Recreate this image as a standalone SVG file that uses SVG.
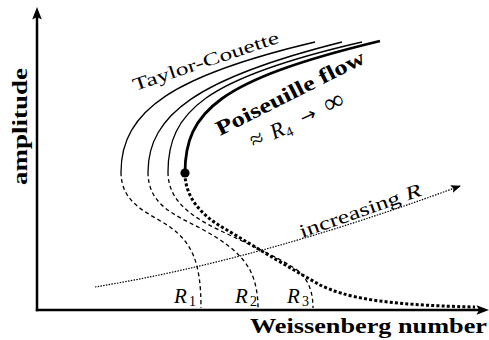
<svg xmlns="http://www.w3.org/2000/svg" width="489" height="340" viewBox="0 0 489 340">
<defs>
<marker id="arr" viewBox="0 0 10 8" refX="9" refY="4" markerWidth="10" markerHeight="8" markerUnits="userSpaceOnUse" orient="auto">
<path d="M0,0 L10,4 L0,8 L2,4 Z" fill="#000"/>
</marker>
<style>
.solid{fill:none;stroke:#000;stroke-width:1.3}
.thick{fill:none;stroke:#000;stroke-width:2.8}
.dash{fill:none;stroke:#000;stroke-width:1.3;stroke-dasharray:4 3}
.tdot{fill:none;stroke:#000;stroke-width:3;stroke-dasharray:3 2.2}
.fine{fill:none;stroke:#000;stroke-width:1.2;stroke-dasharray:1.5 1.3}
.axis{fill:none;stroke:#000;stroke-width:2.5}
text{font-family:"Liberation Serif","DejaVu Serif",serif;fill:#000}
.bold{font-weight:bold}
.it{font-style:italic}
.sym{font-family:"DejaVu Sans",sans-serif;font-weight:normal}
</style>
</defs>
<g id="axes">
<line class="axis" x1="37" y1="311.2" x2="37" y2="15"/>
<path d="M37,7 L41.8,19.5 L37,17 L32.2,19.5 Z" fill="#000"/>
<line class="axis" x1="35.8" y1="310" x2="480" y2="310"/>
<path d="M489,310 L476.5,305.2 L479,310 L476.5,314.8 Z" fill="#000"/>
<text class="bold" font-size="21" transform="translate(27,185) rotate(-90)" textLength="117" lengthAdjust="spacingAndGlyphs">amplitude</text>
<text class="bold" x="250" y="333" font-size="22" textLength="237" lengthAdjust="spacingAndGlyphs">Weissenberg number</text>
</g>
<g id="connectors">
<g id="curve-R1">
<path class="solid" d="M121,172 C121,110 175,75 315,42"/>
<path class="dash" d="M121,172 C121,205 150,213 170,227 C192,243 201,262 201,308"/>
</g>
<g id="curve-R2">
<path class="solid" d="M148,172 C148,115 198,78 342,42"/>
<path class="dash" d="M148,172 C148,205 175,215 200,228 C222,240 240,252 250,270 C256,282 258,295 258,308"/>
</g>
<g id="curve-R3">
<path class="solid" d="M168,172 C168,112 205,78 362,42"/>
<path class="dash" d="M168,172 C168,200 190,215 213,227 C245,243 275,255 297,270 C310,280 313,295 313,308"/>
</g>
<g id="curve-R4">
<path class="thick" d="M185,173 C185,112 218,80 380,41"/>
<path class="tdot" d="M185,173 C185,200 205,218 227,230 C260,250 290,268 320,285 C345,297 380,305 475,307"/>
<circle cx="185" cy="173" r="4.6" fill="#000"/>
</g>
<path class="fine" d="M95,287 Q260,260 460,186" marker-end="url(#arr)"/>
</g>
<g id="labels">
<text font-size="18" transform="translate(135,91) rotate(-18.5)" textLength="153" lengthAdjust="spacingAndGlyphs">Taylor-Couette</text>
<text class="bold" font-size="21" transform="translate(220,136) rotate(-26.7)" textLength="164" lengthAdjust="spacingAndGlyphs">Poiseuille flow</text>
<g transform="translate(254,149) rotate(-25)">
<text x="0" y="0" font-size="24">≈</text>
<text x="22" y="0" font-size="22" class="it">R</text>
<text x="36" y="4" font-size="14">4</text>
<text x="55" y="-1" font-size="19" class="sym">→</text>
<text x="82" y="0" font-size="28">∞</text>
</g>
<text font-size="19" transform="translate(302,238) rotate(-19.5)" textLength="128" lengthAdjust="spacingAndGlyphs">increasing <tspan class="it">R</tspan></text>
<text x="174" y="303" font-size="21" class="it">R</text><text x="189" y="306" font-size="14">1</text>
<text x="235" y="303" font-size="21" class="it">R</text><text x="250" y="306" font-size="14">2</text>
<text x="287" y="303" font-size="21" class="it">R</text><text x="302" y="306" font-size="14">3</text>
</g>
</svg>
